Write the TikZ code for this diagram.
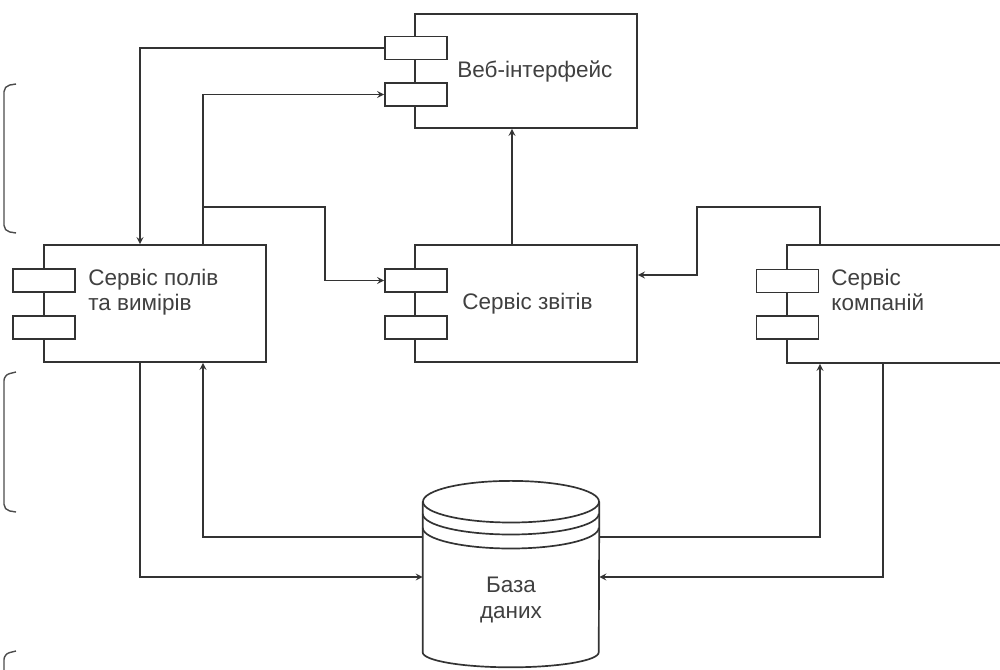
\documentclass[tikz,border=0pt]{standalone}
\usepackage{fontspec}
\setmainfont{Liberation Sans}
\usetikzlibrary{positioning}

\begin{document}
\begin{tikzpicture}[x=0.025cm,y=-0.025cm,>=stealth,
    comp/.style={draw=black!80,line width=1.2pt,fill=white,minimum width=5.55cm,inner sep=0pt},
    port/.style={draw=black!80,line width=1.2pt,fill=white,minimum width=1.55cm,minimum height=0.575cm,inner sep=0pt},
    lbl/.style={anchor=west,align=left,text=black!75,font=\fontsize{16}{18}\selectfont,inner sep=0pt},
    link/.style={->,draw=black!80,line width=1.2pt},
    dbline/.style={draw=black!80,line width=1.2pt},
    bracket/.style={draw=black!70,line width=1pt,rounded corners=4pt}]
  \path[use as bounding box] (0,0) rectangle (1000,670);
  \clip (0,0) rectangle (1000,670);

  % components
  \node[comp,minimum height=2.85cm] (web) at (526,71) {};
  \node[comp,minimum height=2.925cm] (fields) at (155,303.5) {};
  \node[comp,minimum height=2.925cm] (reports) at (526,303.5) {};
  \node[comp,minimum height=2.95cm,minimum width=6cm] (companies) at (907,304) {};

  \node[port] (wp1) at (416,48) {};
  \node[port] (wp2) at (416,94.5) {};
  \node[port] (fp1) at (44,280.5) {};
  \node[port] (fp2) at (44,327.5) {};
  \node[port] (rp1) at (416,280.5) {};
  \node[port] (rp2) at (416,327.5) {};
  \node[port] (cp1) at (787.5,281) {};
  \node[port] (cp2) at (787.5,327.5) {};

  \node[lbl] (webTxt) at ([xshift=1.075cm]web.west) {Веб-інтерфейс};
  \node[lbl] (fieldsTxt) at ([xshift=1.125cm,yshift=0.28cm]fields.west) {Сервіс полів\\та вимірів};
  \node[lbl] (reportsTxt) at ([xshift=1.2cm]reports.west) {Сервіс звітів};
  \node[lbl] (companiesTxt) at ([xshift=1.125cm,yshift=0.35cm]companies.west) {Сервіс\\компаній};

  % database
  \node[minimum width=4.4cm,minimum height=3.75cm,inner sep=0pt] (db) at (511,577) {};
  \draw[dbline,fill=white] (db.north west) -- (db.south west) arc (180:360:2.2cm and 0.375cm) -- (db.north east);
  \draw[dbline] (db.north) ellipse (2.2cm and 0.52cm);
  \draw[dbline] ([yshift=-0.3cm]db.north west) arc (180:360:2.2cm and 0.52cm);
  \draw[dbline] ([yshift=-0.65cm]db.north west) arc (180:360:2.2cm and 0.52cm);
  \node[lbl,anchor=center,align=center] (dbTxt) at ([yshift=-0.575cm]db.center) {База\\даних};

  % bend points
  \coordinate (xA) at (140,0);
  \coordinate (xB) at (203,0);
  \coordinate (xR) at (512,0);
  \coordinate (xC) at (820,0);
  \coordinate (xD) at (883,0);
  \coordinate (bendR) at (325,207);
  \coordinate (bendC) at (697,207);
  \coordinate (inR) at (697,275);
  \coordinate (yIn) at (0,577);
  \coordinate (yOut) at (0,537);

  % links
  \draw[link] (wp1.west) -| (xA |- fields.north);
  \draw[link] (xB |- fields.north) |- (wp2.west);
  \draw[link] (xB |- bendR) -- (bendR) |- (rp1.west);
  \draw[link] (xR |- reports.north) -- (xR |- web.south);
  \draw[link] (xC |- companies.north) |- (bendC) -- (inR) -- (inR -| reports.east);
  \draw[link] (xA |- fields.south) |- (db.west |- yIn);
  \draw[link] (db.west |- yOut) -| (xB |- fields.south);
  \draw[link] (xD |- companies.south) |- (db.east |- yIn);
  \draw[link] (db.east |- yOut) -| (xC |- companies.south);

  % page edge marks
  \draw[bracket] (16,84) -- (4,86) -- (4,231) -- (16,233);
  \draw[bracket] (16,372) -- (4,375) -- (4,510) -- (16,512);
  \draw[bracket] (16,651) -- (4,654) -- (4,690);
\end{tikzpicture}
\end{document}
